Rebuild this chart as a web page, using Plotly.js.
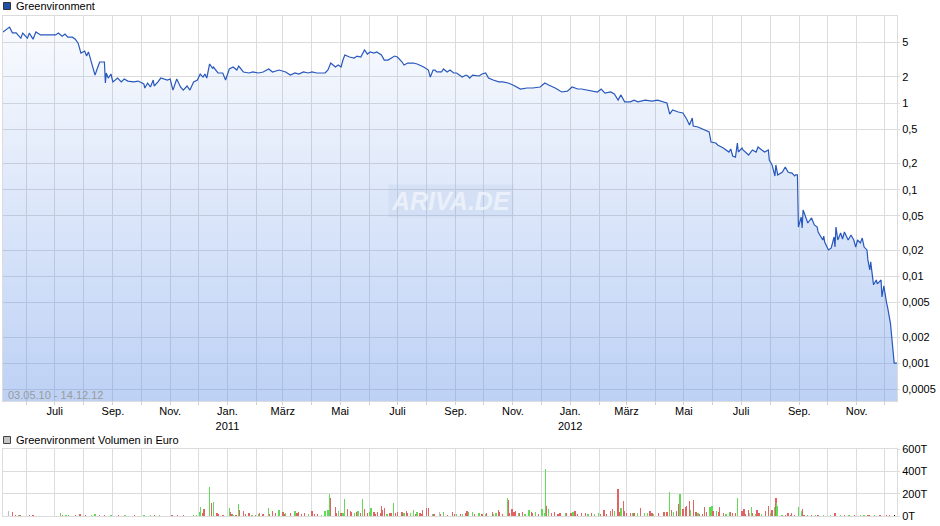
<!DOCTYPE html>
<html><head><meta charset="utf-8">
<script src="https://cdn.plot.ly/plotly-3.0.1.min.js"></script>
<style>html,body{margin:0;padding:0;background:#fff}#chart{width:940px;height:526px}</style>
</head><body><div id="chart"></div>
<script>
const priceDates = ['2010-05-07','2010-05-14','2010-05-17','2010-05-21','2010-05-26','2010-05-28','2010-06-02','2010-06-04','2010-06-08','2010-06-11','2010-06-16','2010-06-21','2010-07-02','2010-07-05','2010-07-09','2010-07-12','2010-07-15','2010-07-20','2010-07-23','2010-07-26','2010-07-29','2010-08-02','2010-08-04','2010-08-06','2010-08-09','2010-08-11','2010-08-13','2010-08-16','2010-08-18','2010-08-23','2010-08-24','2010-08-25','2010-08-27','2010-08-30','2010-09-01','2010-09-06','2010-09-10','2010-09-13','2010-09-17','2010-09-23','2010-09-28','2010-10-04','2010-10-05','2010-10-08','2010-10-11','2010-10-14','2010-10-15','2010-10-19','2010-10-22','2010-10-29','2010-11-01','2010-11-04','2010-11-08','2010-11-12','2010-11-15','2010-11-19','2010-11-22','2010-11-26','2010-11-30','2010-12-03','2010-12-06','2010-12-08','2010-12-10','2010-12-13','2010-12-16','2010-12-17','2010-12-22','2010-12-27','2010-12-30','2011-01-03','2011-01-07','2011-01-11','2011-01-13','2011-01-18','2011-01-24','2011-01-28','2011-02-03','2011-02-08','2011-02-14','2011-02-18','2011-02-25','2011-03-04','2011-03-09','2011-03-14','2011-03-18','2011-03-23','2011-03-28','2011-04-01','2011-04-06','2011-04-15','2011-04-18','2011-04-21','2011-04-26','2011-04-29','2011-05-02','2011-05-04','2011-05-06','2011-05-11','2011-05-16','2011-05-19','2011-05-23','2011-05-27','2011-05-30','2011-06-02','2011-06-06','2011-06-09','2011-06-14','2011-06-17','2011-06-21','2011-06-28','2011-07-01','2011-07-06','2011-07-08','2011-07-12','2011-07-18','2011-07-22','2011-07-27','2011-07-29','2011-08-03','2011-08-05','2011-08-08','2011-08-10','2011-08-12','2011-08-17','2011-08-19','2011-08-23','2011-08-26','2011-08-30','2011-09-02','2011-09-08','2011-09-12','2011-09-14','2011-09-16','2011-09-19','2011-09-26','2011-09-29','2011-10-03','2011-10-06','2011-10-11','2011-10-17','2011-10-21','2011-10-27','2011-11-01','2011-11-09','2011-11-16','2011-11-22','2011-11-30','2011-12-05','2011-12-09','2011-12-16','2011-12-23','2011-12-29','2012-01-03','2012-01-09','2012-01-13','2012-01-23','2012-01-30','2012-02-03','2012-02-07','2012-02-13','2012-02-17','2012-02-21','2012-02-24','2012-02-28','2012-03-05','2012-03-09','2012-03-13','2012-03-21','2012-03-28','2012-04-03','2012-04-10','2012-04-13','2012-04-16','2012-04-19','2012-04-25','2012-04-30','2012-05-04','2012-05-07','2012-05-10','2012-05-11','2012-05-16','2012-05-21','2012-05-23','2012-05-28','2012-05-30','2012-06-04','2012-06-06','2012-06-12','2012-06-18','2012-06-20','2012-06-22','2012-06-25','2012-06-27','2012-06-28','2012-07-02','2012-07-03','2012-07-09','2012-07-11','2012-07-13','2012-07-17','2012-07-19','2012-07-23','2012-07-26','2012-07-30','2012-07-31','2012-08-03','2012-08-06','2012-08-07','2012-08-09','2012-08-14','2012-08-17','2012-08-20','2012-08-22','2012-08-24','2012-08-27','2012-08-28','2012-08-30','2012-08-31','2012-09-03','2012-09-04','2012-09-05','2012-09-07','2012-09-10','2012-09-14','2012-09-17','2012-09-20','2012-09-21','2012-09-26','2012-09-27','2012-09-28','2012-10-02','2012-10-05','2012-10-08','2012-10-09','2012-10-10','2012-10-12','2012-10-15','2012-10-17','2012-10-19','2012-10-23','2012-10-26','2012-10-29','2012-10-31','2012-11-02','2012-11-05','2012-11-07','2012-11-09','2012-11-12','2012-11-13','2012-11-15','2012-11-16','2012-11-19','2012-11-22','2012-11-23','2012-11-27','2012-11-28','2012-11-30','2012-12-03','2012-12-04','2012-12-07','2012-12-11','2012-12-14'];
const priceValues = [6.6,7.5,6.45,6.45,5.6,6.4,5.6,6.4,5.45,6.6,6.1,6.1,6.1,6.4,5.9,6.25,5.75,5.75,5.45,4.9,3.77,3.98,3.48,3.88,2.97,2.6,2.1,2.6,2.97,2.97,1.7,2.22,1.94,2.16,1.75,1.94,1.75,1.89,1.79,1.75,1.79,1.66,1.49,1.7,1.53,1.84,1.57,1.75,1.94,1.84,1.89,1.41,1.89,1.53,1.41,1.57,1.41,1.75,1.84,2.16,1.99,2.16,1.94,2.82,2.53,2.6,2.22,2.22,1.84,2.47,2.6,2.4,2.67,2.28,2.22,2.28,2.22,2.28,2.47,2.28,2.4,2.28,2.1,2.22,2.16,2.28,2.22,2.28,2.22,2.22,2.4,2.89,2.6,2.74,2.6,3.13,3.58,3.39,3.3,3.48,3.39,4.09,3.67,3.88,3.77,3.88,3.58,3.13,3.13,3.48,3.39,2.97,2.74,2.89,2.89,2.82,2.67,2.6,2.4,1.99,2.4,2.4,2.28,2.28,2.47,2.28,2.4,2.22,2.22,1.99,2.1,2.05,1.94,2.1,2.05,2.16,2.22,1.94,1.84,1.75,1.75,1.7,1.61,1.45,1.49,1.49,1.53,1.7,1.61,1.49,1.34,1.37,1.53,1.45,1.45,1.37,1.34,1.45,1.3,1.34,1.27,1.08,1.24,1.03,1.03,1.08,1.03,1.08,1.05,1.08,1.03,1.0,0.746,0.83,0.788,0.767,0.654,0.557,0.671,0.543,0.529,0.501,0.488,0.463,0.355,0.346,0.328,0.303,0.272,0.295,0.245,0.238,0.346,0.272,0.303,0.287,0.251,0.272,0.287,0.272,0.311,0.287,0.272,0.287,0.22,0.193,0.144,0.193,0.148,0.16,0.183,0.16,0.156,0.156,0.144,0.148,0.148,0.0371,0.0484,0.0362,0.0583,0.0511,0.0413,0.0472,0.0392,0.0371,0.0325,0.0263,0.0292,0.0249,0.0202,0.0213,0.0285,0.0218,0.0371,0.0263,0.0317,0.027,0.0325,0.0263,0.03,0.0263,0.0218,0.0263,0.0243,0.0277,0.0218,0.0202,0.0155,0.0119,0.0147,0.008,0.0091,0.0082,0.0091,0.0058,0.0078,0.0049,0.0044,0.0029,0.001,0.001];

const volumeDates = ['2010-05-13','2010-05-17','2010-05-20','2010-05-24','2010-05-25','2010-06-04','2010-06-08','2010-07-07','2010-07-09','2010-07-13','2010-07-16','2010-07-23','2010-07-28','2010-08-03','2010-08-09','2010-08-13','2010-08-18','2010-08-23','2010-08-30','2010-09-07','2010-09-14','2010-09-24','2010-10-04','2010-10-11','2010-10-15','2010-10-21','2010-11-03','2010-11-09','2010-11-15','2010-11-26','2010-11-29','2010-12-02','2010-12-03','2010-12-06','2010-12-07','2010-12-13','2010-12-15','2010-12-17','2010-12-20','2010-12-21','2010-12-22','2010-12-27','2010-12-28','2011-01-03','2011-01-04','2011-01-06','2011-01-07','2011-01-10','2011-01-13','2011-01-14','2011-01-18','2011-01-20','2011-01-24','2011-01-27','2011-01-31','2011-02-03','2011-02-04','2011-02-08','2011-02-14','2011-02-15','2011-02-18','2011-02-21','2011-02-25','2011-03-01','2011-03-03','2011-03-04','2011-03-09','2011-03-14','2011-03-16','2011-03-18','2011-03-21','2011-03-24','2011-03-28','2011-04-01','2011-04-04','2011-04-07','2011-04-11','2011-04-14','2011-04-15','2011-04-18','2011-04-20','2011-04-21','2011-04-26','2011-04-27','2011-04-29','2011-05-02','2011-05-04','2011-05-06','2011-05-09','2011-05-12','2011-05-13','2011-05-16','2011-05-19','2011-05-20','2011-05-23','2011-05-25','2011-05-27','2011-05-30','2011-06-01','2011-06-03','2011-06-06','2011-06-08','2011-06-10','2011-06-13','2011-06-14','2011-06-15','2011-06-17','2011-06-20','2011-06-23','2011-06-24','2011-06-27','2011-06-29','2011-07-01','2011-07-06','2011-07-08','2011-07-11','2011-07-12','2011-07-15','2011-07-18','2011-07-20','2011-07-22','2011-07-25','2011-07-27','2011-07-28','2011-08-01','2011-08-03','2011-08-08','2011-08-09','2011-08-15','2011-08-16','2011-08-19','2011-08-23','2011-08-29','2011-08-31','2011-09-02','2011-09-06','2011-09-08','2011-09-12','2011-09-13','2011-09-15','2011-09-19','2011-09-21','2011-09-26','2011-09-29','2011-10-03','2011-10-04','2011-10-10','2011-10-11','2011-10-14','2011-10-17','2011-10-18','2011-10-21','2011-10-26','2011-10-27','2011-10-28','2011-10-31','2011-11-02','2011-11-04','2011-11-07','2011-11-08','2011-11-11','2011-11-14','2011-11-18','2011-11-21','2011-11-22','2011-11-25','2011-11-28','2011-12-02','2011-12-05','2011-12-06','2011-12-07','2011-12-09','2011-12-12','2011-12-15','2011-12-19','2011-12-21','2011-12-27','2011-12-28','2012-01-02','2012-01-04','2012-01-06','2012-01-09','2012-01-13','2012-01-17','2012-01-20','2012-01-24','2012-01-27','2012-01-31','2012-02-02','2012-02-06','2012-02-09','2012-02-13','2012-02-15','2012-02-17','2012-02-20','2012-02-21','2012-02-23','2012-02-24','2012-02-27','2012-02-28','2012-03-01','2012-03-05','2012-03-07','2012-03-09','2012-03-13','2012-03-16','2012-03-20','2012-03-23','2012-03-26','2012-03-28','2012-03-30','2012-04-04','2012-04-10','2012-04-13','2012-04-16','2012-04-18','2012-04-20','2012-04-23','2012-04-25','2012-04-26','2012-04-27','2012-04-30','2012-05-03','2012-05-04','2012-05-07','2012-05-08','2012-05-11','2012-05-14','2012-05-16','2012-05-18','2012-05-21','2012-05-23','2012-05-25','2012-05-29','2012-05-31','2012-06-01','2012-06-05','2012-06-07','2012-06-08','2012-06-12','2012-06-15','2012-06-19','2012-06-20','2012-06-22','2012-06-25','2012-06-27','2012-07-02','2012-07-04','2012-07-06','2012-07-09','2012-07-10','2012-07-12','2012-07-13','2012-07-16','2012-07-18','2012-07-20','2012-07-23','2012-07-27','2012-07-30','2012-08-01','2012-08-03','2012-08-06','2012-08-07','2012-08-08','2012-08-09','2012-08-13','2012-08-14','2012-08-17','2012-08-20','2012-08-23','2012-08-24','2012-08-27','2012-08-31','2012-09-03','2012-09-04','2012-09-06','2012-09-10','2012-09-14','2012-09-18','2012-09-21','2012-09-27','2012-10-04','2012-10-09','2012-10-15','2012-10-19','2012-10-24','2012-10-30','2012-11-05','2012-11-09','2012-11-13','2012-11-15','2012-11-20','2012-11-26','2012-12-03','2012-12-06','2012-12-11'];
const volumeValues = [45,36,9,6,6,6,6,24,9,12,9,9,18,9,9,18,9,9,9,6,6,6,6,6,9,6,6,6,6,6,6,39,78,30,60,264,114,129,30,24,18,9,12,69,39,18,9,12,108,54,45,18,24,12,12,15,24,18,69,18,48,30,54,36,18,30,24,48,24,33,18,24,18,48,18,18,12,18,45,54,194,158,78,30,48,24,30,149,63,48,39,24,36,42,24,152,60,30,39,69,39,18,36,24,90,54,75,18,24,30,117,24,36,36,30,45,30,24,54,18,36,24,18,54,72,72,18,18,36,18,36,12,36,18,18,18,18,24,42,36,36,18,24,18,18,24,36,18,24,54,39,18,161,143,24,60,39,45,24,30,39,18,54,36,24,36,18,60,30,420,90,63,24,36,18,30,30,24,24,36,42,18,24,24,18,24,18,24,18,54,18,42,60,45,90,243,39,72,135,45,30,24,24,24,24,72,24,24,45,24,18,24,36,36,219,54,36,45,45,108,198,60,78,90,135,54,144,36,24,18,18,84,36,84,90,45,45,36,84,24,18,36,36,24,24,159,45,66,18,54,30,78,24,18,51,24,18,45,90,24,54,84,161,114,90,12,12,9,24,12,24,12,84,45,63,12,9,9,6,9,6,6,24,6,6,6,6,6,6,12,9,6,6,6,6,6];
const volumeDirection = [0,-1,-1,1,-1,-1,-1,1,-1,1,1,-1,-1,-1,1,1,-1,-1,1,-1,1,-1,1,1,-1,1,-1,-1,-1,1,1,1,1,-1,-1,1,-1,1,-1,-1,-1,-1,-1,1,-1,-1,1,-1,1,-1,-1,-1,-1,1,-1,1,-1,-1,1,-1,-1,-1,1,-1,-1,1,-1,1,-1,-1,-1,-1,1,-1,-1,-1,1,-1,1,1,1,-1,-1,-1,1,-1,1,1,-1,-1,-1,1,-1,1,-1,1,-1,-1,1,1,-1,-1,-1,-1,-1,-1,-1,1,-1,-1,1,-1,-1,-1,1,-1,-1,1,1,-1,1,-1,-1,-1,-1,-1,1,-1,0,-1,1,-1,-1,-1,1,-1,1,-1,-1,1,1,-1,1,-1,1,-1,-1,1,1,-1,-1,-1,1,-1,-1,-1,-1,-1,1,-1,-1,1,1,-1,-1,1,-1,1,1,1,-1,1,-1,-1,-1,-1,1,-1,-1,1,-1,-1,-1,-1,1,-1,1,1,-1,-1,-1,-1,-1,1,-1,-1,-1,1,-1,-1,-1,-1,1,-1,1,-1,1,1,-1,-1,1,-1,-1,-1,1,-1,1,-1,-1,-1,1,-1,-1,-1,-1,1,-1,-1,1,-1,-1,-1,-1,1,1,-1,1,-1,-1,-1,1,1,-1,-1,-1,1,-1,-1,-1,-1,0,1,-1,1,-1,-1,1,-1,-1,1,-1,1,-1,1,1,1,1,-1,-1,-1,-1,-1,1,1,-1,-1,1,-1,1,-1,1,1,-1,1,-1,1,-1,1,1,-1,-1,1,-1,-1,-1];

const monthTickDates = ['2010-07-01','2010-09-01','2010-11-01','2011-01-01','2011-03-01','2011-05-01','2011-07-01','2011-09-01','2011-11-01','2012-01-01','2012-03-01','2012-05-01','2012-07-01','2012-09-01','2012-11-01'];
const monthTickLabels = ['Juli','Sep.','Nov.','Jan.<br>2011','März','Mai','Juli','Sep.','Nov.','Jan.<br>2012','März','Mai','Juli','Sep.','Nov.'];
const priceTickValues = [5,2,1,0.5,0.2,0.1,0.05,0.02,0.01,0.005,0.002,0.001,0.0005];
const priceTickLabels = ['5','2','1','0,5','0,2','0,1','0,05','0,02','0,01','0,005','0,002','0,001','0,0005'];
const volumeTickValues = [0,200,400,600];
const volumeTickLabels = ['0T','200T','400T','600T'];
const seriesName = 'Greenvironment';
const volumeName = 'Greenvironment Volumen in Euro';
const periodLabel = '03.05.10 - 14.12.12';
const xRange = ['2010-05-07','2012-12-14'];
const priceRangeLog = [-3.437, 1.0035];
const volumeRange = [0, 600];

const W = 940, H = 526;
const px = x => x / W;
const py = y => 1 - y / H;
const FONT = 'Liberation Sans, Arial, sans-serif';
const GRID = '#dcdcdc';
const baseValue = Math.pow(10, priceRangeLog[0]);

const dirColor = d => d > 0 ? '#62d957' : (d < 0 ? '#e06464' : '#bdbdbd');

const traces = [
  {x: [priceDates[0], priceDates[priceDates.length-1]], y: [baseValue, baseValue], type: 'scatter', mode: 'lines',
   line: {width: 0, color: 'rgba(0,0,0,0)'}, hoverinfo: 'skip', showlegend: false, xaxis: 'x', yaxis: 'y'},
  {x: priceDates, y: priceValues, type: 'scatter', mode: 'lines', name: seriesName,
   line: {color: '#2858bd', width: 1.2}, fill: 'tonexty',
   fillgradient: {type: 'vertical', colorscale: [[0, 'rgba(90,140,230,0.40)'], [1, 'rgba(90,140,230,0.04)']]},
   showlegend: false, xaxis: 'x', yaxis: 'y'},
  {x: volumeDates, y: volumeValues, type: 'bar', name: volumeName,
   marker: {color: volumeDirection.map(dirColor), line: {width: 0}},
   width: 86400000 * 1.4, showlegend: false, xaxis: 'x2', yaxis: 'y2'}
];

const xDomain = [px(3), px(897)];
const layout = {
  width: W, height: H, margin: {l: 0, r: 0, t: 0, b: 0},
  paper_bgcolor: '#fff', plot_bgcolor: '#fff', showlegend: false,
  font: {family: FONT, size: 11, color: '#000'},
  bargap: 0,
  xaxis: {
    domain: xDomain, type: 'date', range: xRange, anchor: 'y',
    tickmode: 'array', tickvals: monthTickDates, ticktext: monthTickLabels,
    ticks: '', showgrid: true, gridcolor: GRID, gridwidth: 1,
    minor: {dtick: 'M1', tick0: '2010-06-01', showgrid: true, gridcolor: GRID, ticks: 'outside', ticklen: 3, tickcolor: '#cfcfcf'},
    showline: true, mirror: true, linecolor: GRID, zeroline: false,
    tickfont: {family: FONT, size: 11, color: '#000'}, fixedrange: true
  },
  yaxis: {
    domain: [py(401), py(16)], type: 'log', range: priceRangeLog, side: 'right', anchor: 'x',
    tickmode: 'array', tickvals: priceTickValues, ticktext: priceTickLabels,
    ticks: 'outside', ticklen: 2, tickcolor: GRID, showgrid: true, gridcolor: GRID,
    showline: true, mirror: true, linecolor: GRID, zeroline: false,
    tickfont: {family: FONT, size: 11, color: '#000'}, fixedrange: true
  },
  xaxis2: {
    domain: xDomain, type: 'date', range: xRange, anchor: 'y2',
    tickmode: 'linear', dtick: 'M1', tick0: '2010-06-01', showticklabels: false, ticks: '',
    showgrid: true, gridcolor: GRID, showline: true, mirror: true, linecolor: GRID, zeroline: false, fixedrange: true
  },
  yaxis2: {
    domain: [py(516), py(449)], range: volumeRange, side: 'right', anchor: 'x2',
    tickmode: 'array', tickvals: volumeTickValues, ticktext: volumeTickLabels,
    ticks: 'outside', ticklen: 2, tickcolor: GRID, showgrid: true, gridcolor: GRID,
    showline: true, mirror: true, linecolor: GRID, zeroline: false,
    tickfont: {family: FONT, size: 11, color: '#000'}, fixedrange: true
  },
  shapes: [
    {type: 'rect', xref: 'paper', yref: 'paper', x0: px(3.5), x1: px(10.5), y0: py(9.5), y1: py(2.5),
     fillcolor: '#1f51a8', line: {color: '#333', width: 1}},
    {type: 'rect', xref: 'paper', yref: 'paper', x0: px(3.5), x1: px(10.5), y0: py(443.5), y1: py(436.5),
     fillcolor: '#c4c4c4', line: {color: '#444', width: 1}}
  ],
  annotations: [
    {xref: 'paper', yref: 'paper', x: px(14), y: py(6), xanchor: 'left', yanchor: 'middle', showarrow: false,
     text: seriesName, font: {family: FONT, size: 11, color: '#000'}},
    {xref: 'paper', yref: 'paper', x: px(14), y: py(440), xanchor: 'left', yanchor: 'middle', showarrow: false,
     text: volumeName, font: {family: FONT, size: 11, color: '#000'}},
    {xref: 'paper', yref: 'paper', x: px(6), y: py(394.5), xanchor: 'left', yanchor: 'middle', showarrow: false,
     text: periodLabel, font: {family: FONT, size: 11, color: '#9a9a9a'}},
    {xref: 'paper', yref: 'paper', x: px(451), y: py(201), xanchor: 'center', yanchor: 'middle', showarrow: false,
     text: '<b><i>ARIVA.DE</i></b>', bgcolor: 'rgba(150,170,210,0.12)', borderpad: 2,
     font: {family: FONT, size: 25, color: 'rgba(245,248,253,0.7)'}}
  ]
};

Plotly.newPlot('chart', traces, layout, {staticPlot: true, displayModeBar: false});
</script>
</body></html>
